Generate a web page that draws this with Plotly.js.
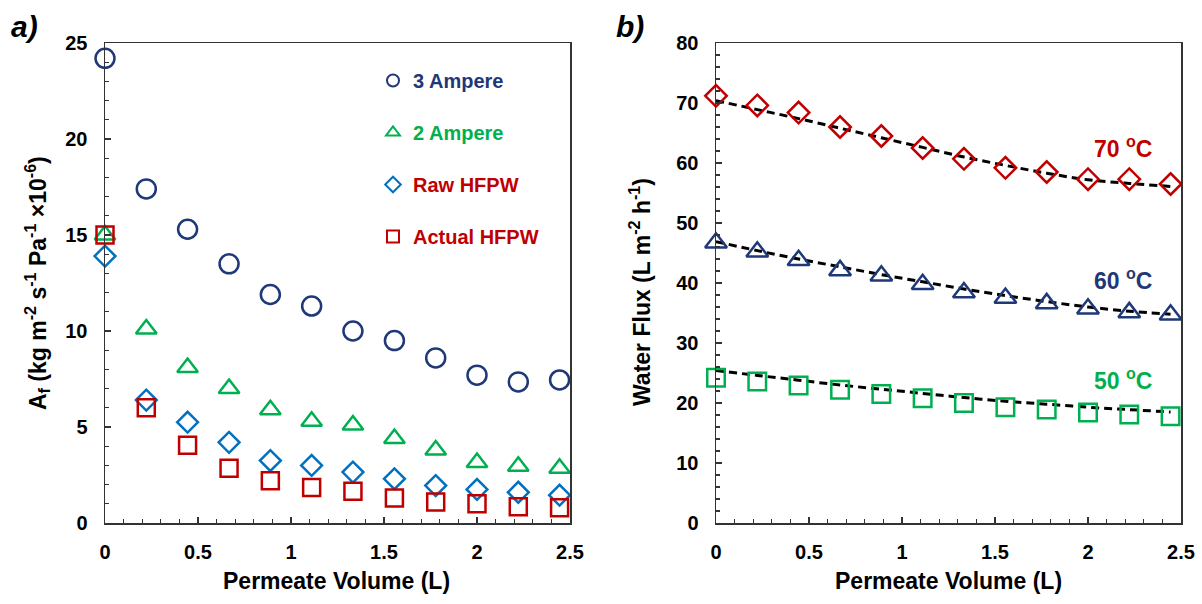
<!DOCTYPE html>
<html>
<head>
<meta charset="utf-8">
<script src="https://cdn.plot.ly/plotly-3.0.1.min.js"></script>
<style>html,body{margin:0;padding:0;background:#fff;}#chart{width:1202px;height:604px;}</style>
</head>
<body>
<div id="chart"></div>
<script>
// ---- data ----
const volume = [0, 0.222, 0.444, 0.667, 0.889, 1.111, 1.333, 1.556, 1.778, 2.0, 2.222, 2.444];

// panel a) A_f (×10^-6)
const ampere3    = [24.2, 17.4, 15.3, 13.5, 11.9, 11.3, 10.0, 9.5, 8.6, 7.7, 7.35, 7.45];
const ampere2    = [15.0, 10.1, 8.1, 7.0, 5.9, 5.3, 5.1, 4.4, 3.8, 3.15, 2.95, 2.85];
const rawHFPW    = [13.9, 6.4, 5.25, 4.2, 3.25, 3.0, 2.65, 2.3, 1.95, 1.75, 1.6, 1.45];
const actualHFPW = [15.0, 6.0, 4.05, 2.85, 2.2, 1.85, 1.65, 1.3, 1.1, 1.0, 0.85, 0.8];

// panel b) water flux
const flux70 = [71.2, 69.6, 68.4, 66.0, 64.5, 62.5, 60.7, 59.2, 58.5, 57.3, 57.3, 56.5];
const flux60 = [46.7, 45.2, 43.8, 42.1, 41.2, 39.8, 38.4, 37.5, 36.6, 35.7, 35.1, 34.7];
const flux50 = [24.2, 23.6, 22.9, 22.2, 21.5, 20.8, 20.0, 19.3, 18.9, 18.4, 18.1, 17.8];
// dashed trend lines (read at each volume)
const fit70 = [70.4, 68.9, 67.4, 65.8, 64.2, 62.6, 61.0, 59.6, 58.3, 57.2, 56.6, 56.1];
const fit60 = [46.9, 45.4, 44.0, 42.7, 41.4, 40.2, 39.0, 37.9, 36.9, 36.0, 35.3, 34.8];
const fit50 = [25.4, 24.6, 23.8, 23.0, 22.3, 21.6, 20.9, 20.3, 19.8, 19.3, 18.9, 18.5];

const seriesNamesA = ['3 Ampere', '2 Ampere', 'Raw HFPW', 'Actual HFPW'];
const tempLabels = ['70 <sup>o</sup>C', '60 <sup>o</sup>C', '50 <sup>o</sup>C'];
const xTitle = 'Permeate Volume (L)';
const yTitleA = 'A<sub>f</sub> (kg m<sup>-2</sup> s<sup>-1</sup> Pa<sup>-1</sup> ×10<sup>-6</sup>)';
const yTitleB = 'Water Flux (L m<sup>-2</sup> h<sup>-1</sup>)';

// ---- styles ----
const NAVY = '#1F3878', GREEN = '#00B050', BLUE = '#0070C0', RED = '#C00000';
const FONT = 'Liberation Sans, Arial, sans-serif';
const AX = '#333333';

function mk(y, sym, color, size, name, textColor, xa, ya, legend) {
  return {
    x: volume, y: y, type: 'scatter', mode: 'markers', cliponaxis: false,
    name: '<span style="color:' + textColor + '">' + name + '</span>',
    legendgroup: name, showlegend: !!legend,
    xaxis: xa, yaxis: ya,
    marker: {symbol: sym, size: size, color: color, line: {color: color, width: 2.5}}
  };
}
function fit(y) {
  return {x: volume, y: y, type: 'scatter', mode: 'lines', showlegend: false,
    xaxis: 'x2', yaxis: 'y2', hoverinfo: 'skip',
    line: {color: '#000', width: 3, dash: '8px,5px', shape: 'spline'}};
}

const traces = [
  mk(ampere3, 'circle-open', NAVY, 19, seriesNamesA[0], NAVY, 'x', 'y', true),
  mk(ampere2, 'triangle-up-open', GREEN, 18, seriesNamesA[1], GREEN, 'x', 'y', true),
  mk(rawHFPW, 'diamond-open', BLUE, 16, seriesNamesA[2], RED, 'x', 'y', true),
  mk(actualHFPW, 'square-open', RED, 17, seriesNamesA[3], RED, 'x', 'y', true),
  fit(fit70), fit(fit60), fit(fit50),
  mk(flux70, 'diamond-open', RED, 16.5, '70', RED, 'x2', 'y2', false),
  mk(flux60, 'triangle-up-open', NAVY, 19, '60', NAVY, 'x2', 'y2', false),
  mk(flux50, 'square-open', GREEN, 17.5, '50', GREEN, 'x2', 'y2', false)
];

const tickFont = {family: FONT, size: 20, color: '#000', weight: 'bold'};
function xax(domain, anchor) {
  return {domain: domain, anchor: anchor, range: [0, 2.5], dtick: 0.5, tick0: 0,
    ticks: 'inside', ticklen: 6, tickwidth: 1.5, tickcolor: AX,
    minor: {dtick: 0.1, tick0: 0, ticks: 'inside', ticklen: 4, tickwidth: 1.2, tickcolor: AX},
    showline: true, mirror: true, linecolor: AX, linewidth: 1.5,
    showgrid: false, zeroline: false, tickfont: tickFont, ticklabelstandoff: 10};
}
function yax(domain, anchor, range, dtick, minor) {
  return {domain: domain, anchor: anchor, range: range, dtick: dtick, tick0: 0,
    ticks: 'inside', ticklen: 6, tickwidth: 1.5, tickcolor: AX,
    minor: {dtick: minor, tick0: 0, ticks: 'inside', ticklen: 4, tickwidth: 1.2, tickcolor: AX},
    showline: true, mirror: true, linecolor: AX, linewidth: 1.5,
    showgrid: false, zeroline: false, tickfont: tickFont, ticklabelstandoff: 12};
}

const W = 1202, H = 604;
const px = v => v / W, py = v => 1 - v / H;
const yDom = [py(523), py(43)];

function ann(text, x, y, size, color, extra) {
  return Object.assign({text: text, xref: 'paper', yref: 'paper', x: x, y: y,
    xanchor: 'center', yanchor: 'middle', showarrow: false,
    font: {family: FONT, size: size, color: color, weight: 'bold'}}, extra || {});
}

const layout = {
  width: W, height: H,
  margin: {l: 0, r: 0, t: 0, b: 0},
  paper_bgcolor: '#fff', plot_bgcolor: '#fff',
  font: {family: FONT},
  xaxis: xax([px(105), px(570)], 'y'),
  yaxis: yax(yDom, 'x', [0, 25], 5, 1),
  xaxis2: xax([px(716), px(1181)], 'y2'),
  yaxis2: yax(yDom, 'x2', [0, 80], 10, 2),
  showlegend: true,
  legend: {x: px(373), y: py(61), xanchor: 'left', yanchor: 'top',
    bgcolor: 'rgba(0,0,0,0)', borderwidth: 0,
    traceorder: 'grouped', tracegroupgap: 23, itemsizing: 'constant', itemwidth: 30,
    font: {family: FONT, size: 20, weight: 'bold', color: '#000'}},
  annotations: [
    ann(xTitle, px(337), py(581), 23, '#000'),
    ann(xTitle, px(948), py(581), 23, '#000'),
    ann(yTitleA, px(37), py(283), 23, '#000', {textangle: -90}),
    ann(yTitleB, px(640), py(292), 23, '#000', {textangle: -90}),
    ann('<i>a)</i>', px(24), py(27), 30, '#000'),
    ann('<i>b)</i>', px(630), py(27), 30, '#000'),
    ann(tempLabels[0], px(1123), py(147), 23, RED),
    ann(tempLabels[1], px(1123), py(279), 23, NAVY),
    ann(tempLabels[2], px(1123), py(379), 23, GREEN)
  ]
};

Plotly.newPlot('chart', traces, layout, {staticPlot: true, displayModeBar: false});
</script>
</body>
</html>
